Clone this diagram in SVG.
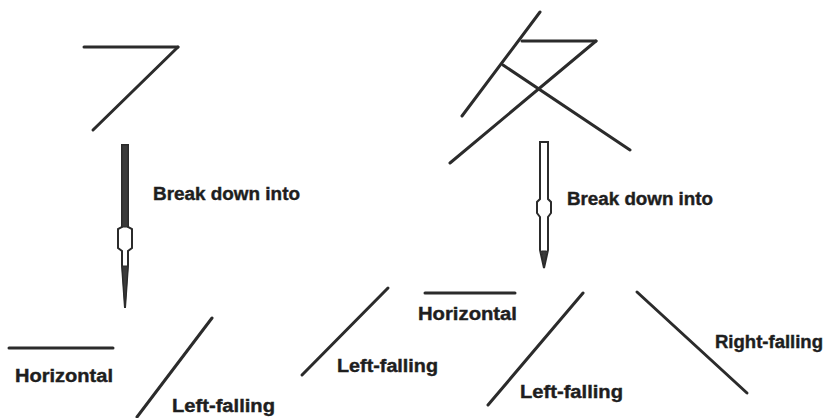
<svg xmlns="http://www.w3.org/2000/svg" width="832" height="418" viewBox="0 0 832 418">
<style>
.stroke{stroke:#2b2b2b;stroke-width:3;stroke-linecap:round;fill:none}
.lbl{font-family:"Liberation Sans","DejaVu Sans",sans-serif;font-weight:bold;font-size:18px;fill:#1e1e1e;stroke:#1e1e1e;stroke-width:0.4}
.arrow{fill:#fff;stroke:#2b2b2b;stroke-width:2;stroke-linejoin:miter}
.dark{fill:#3a3a3a;stroke:#2b2b2b;stroke-width:1}
</style>
<rect width="832" height="418" fill="#fff"/>
<g id="char-left">
<line class="stroke" x1="84" y1="47" x2="178" y2="47"/>
<line class="stroke" x1="178" y1="47" x2="93" y2="130"/>
</g>
<g id="char-right">
<line class="stroke" x1="540" y1="12" x2="462" y2="116"/>
<line class="stroke" x1="522" y1="41" x2="596" y2="41"/>
<line class="stroke" x1="596" y1="41" x2="450" y2="163"/>
<line class="stroke" x1="503" y1="65" x2="630" y2="150"/>
</g>
<g id="connectors">
<g id="arrow-left">
<path class="arrow" d="M122,145 L128,145 L128,227 L132,229 L132,248 L128,251 L128,265 L125,308 L122,265 L122,251 L118,248 L118,229 L122,227 Z"/>
<rect class="dark" x="122" y="145" width="6" height="82"/>
<path class="dark" d="M122,266 L128,266 L125,308 Z"/>
</g>
<g id="arrow-right">
<path class="arrow" d="M540,142 L548,142 L548,199 L551,202 L551,213 L548,217 L548,250 L544,268 L540,250 L540,217 L537,213 L537,202 L540,199 Z"/>
<path class="dark" d="M541.5,251 L546.5,251 L544,268 Z"/>
</g>
</g>
<g id="label-break-left"><text class="lbl" x="153" y="200" textLength="147" lengthAdjust="spacingAndGlyphs">Break down into</text></g>
<g id="label-break-right"><text class="lbl" x="567" y="205" textLength="146" lengthAdjust="spacingAndGlyphs">Break down into</text></g>
<g id="stroke-left-horizontal">
<line class="stroke" x1="9" y1="348" x2="113" y2="348"/>
<text class="lbl" x="15" y="382" textLength="98" lengthAdjust="spacingAndGlyphs">Horizontal</text>
</g>
<g id="stroke-left-leftfalling">
<line class="stroke" x1="212" y1="318" x2="137" y2="417"/>
<text class="lbl" x="172" y="412" textLength="103" lengthAdjust="spacingAndGlyphs">Left-falling</text>
</g>
<g id="stroke-right-leftfalling1">
<line class="stroke" x1="388" y1="288" x2="302" y2="375"/>
<text class="lbl" x="337" y="372" textLength="101" lengthAdjust="spacingAndGlyphs">Left-falling</text>
</g>
<g id="stroke-right-horizontal">
<line class="stroke" x1="425" y1="293" x2="515" y2="293"/>
<text class="lbl" x="418" y="320" textLength="99" lengthAdjust="spacingAndGlyphs">Horizontal</text>
</g>
<g id="stroke-right-leftfalling2">
<line class="stroke" x1="583" y1="293" x2="488" y2="405"/>
<text class="lbl" x="520" y="398" textLength="103" lengthAdjust="spacingAndGlyphs">Left-falling</text>
</g>
<g id="stroke-right-rightfalling">
<line class="stroke" x1="637" y1="292" x2="747" y2="393"/>
<text class="lbl" x="715" y="348" textLength="108" lengthAdjust="spacingAndGlyphs">Right-falling</text>
</g>
</svg>
